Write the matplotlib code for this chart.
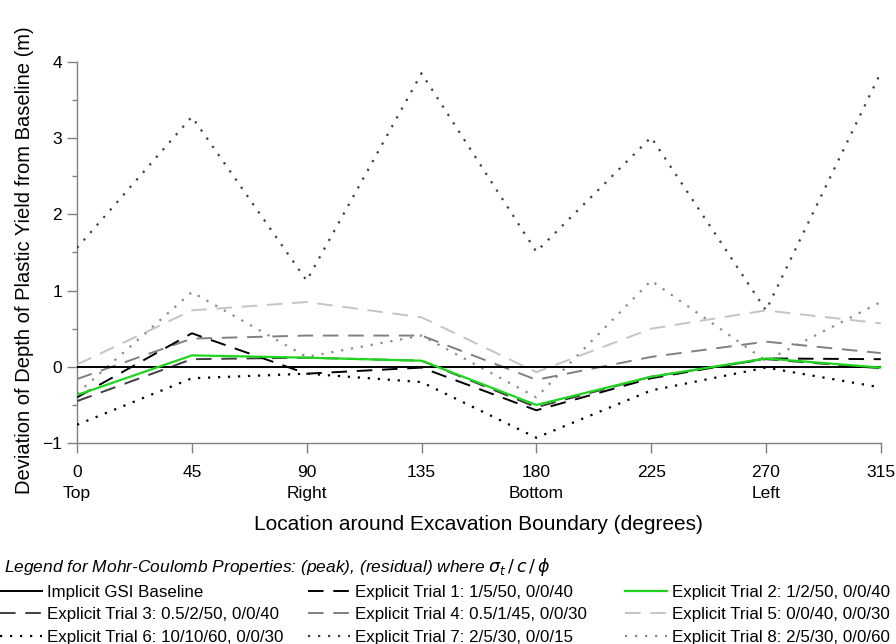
"""
Deviation of plastic-yield depth from the implicit GSI baseline, for eight
explicit Mohr-Coulomb trials, around the excavation boundary.
"""
import matplotlib
matplotlib.use("Agg")
import matplotlib.pyplot as plt
from matplotlib.ticker import MultipleLocator

plt.rcParams["font.family"] = ["Liberation Sans", "DejaVu Sans"]

angles = [0, 45, 90, 135, 180, 225, 270, 315]
side_labels = ["Top", "", "Right", "", "Bottom", "", "Left", ""]

baseline = [0, 0, 0, 0, 0, 0, 0, 0]
trial1 = [-0.40, 0.44, -0.09, -0.01, -0.57, -0.15, 0.11, 0.10]
trial2 = [-0.37, 0.15, 0.12, 0.08, -0.50, -0.13, 0.11, -0.01]
trial3 = [-0.45, 0.10, 0.12, 0.08, -0.53, -0.13, 0.10, -0.02]
trial4 = [-0.16, 0.37, 0.41, 0.41, -0.17, 0.13, 0.33, 0.18]
trial5 = [0.03, 0.74, 0.85, 0.65, -0.07, 0.50, 0.74, 0.57]
trial6 = [-0.76, -0.15, -0.09, -0.20, -0.93, -0.31, -0.01, -0.27]
trial7 = [1.56, 3.28, 1.13, 3.85, 1.51, 3.01, 0.74, 3.86]
trial8 = [-0.35, 0.98, 0.13, 0.41, -0.40, 1.13, 0.08, 0.85]

labels = [
    "Implicit GSI Baseline",
    "Explicit Trial 1: 1/5/50, 0/0/40",
    "Explicit Trial 2: 1/2/50, 0/0/40",
    "Explicit Trial 3: 0.5/2/50, 0/0/40",
    "Explicit Trial 4: 0.5/1/45, 0/0/30",
    "Explicit Trial 5: 0/0/40, 0/0/30",
    "Explicit Trial 6: 10/10/60, 0/0/30",
    "Explicit Trial 7: 2/5/30, 0/0/15",
    "Explicit Trial 8: 2/5/30, 0/0/60",
]

DASH = (0, (8, 5))
DOT = (0, (1, 3.5))
styles = [
    dict(color="black", ls="-", lw=1.4),
    dict(color="black", ls=DASH, lw=1.4),
    dict(color="#1fd61f", ls="-", lw=1.6),
    dict(color="#404040", ls=DASH, lw=1.4),
    dict(color="#808080", ls=DASH, lw=1.4),
    dict(color="#c4c4c4", ls=DASH, lw=1.4),
    dict(color="black", ls=DOT, lw=1.6),
    dict(color="#404040", ls=DOT, lw=1.6),
    dict(color="#8a8a8a", ls=DOT, lw=1.6),
]

series = [baseline, trial1, trial2, trial3, trial4, trial5, trial6, trial7, trial8]
# draw order: lighter lines underneath, baseline and green on top
draw_order = [8, 7, 5, 4, 6, 3, 1, 0, 2]

fig = plt.figure(figsize=(8.96, 6.44), dpi=100)
ax = fig.add_axes([0.086, 0.312, 0.897, 0.592])

handles = [None] * len(series)
for z, i in enumerate(draw_order):
    (h,) = ax.plot(angles, series[i], label=labels[i], zorder=2 + z, **styles[i])
    handles[i] = h

ax.set_xlim(0, 315)
ax.set_ylim(-1, 4)
ax.set_xticks(angles)
ax.set_xticklabels([f"{a}\n{s}" for a, s in zip(angles, side_labels)],
                   fontsize=12.5, linespacing=1.55)
ax.yaxis.set_major_locator(MultipleLocator(1))
ax.yaxis.set_minor_locator(MultipleLocator(0.5))
ax.tick_params(axis="y", labelsize=12.5, pad=3.5)
ax.tick_params(axis="x", pad=8.5)

for spine in ["top", "right"]:
    ax.spines[spine].set_visible(False)
for spine in ["left", "bottom"]:
    ax.spines[spine].set_color("#808080")
    ax.spines[spine].set_linewidth(1.0)
ax.tick_params(which="major", direction="out", color="#808080", length=7.2, width=1.0)
ax.tick_params(which="minor", direction="out", color="#808080", length=3.6, width=1.0)

ax.set_xlabel("Location around Excavation Boundary (degrees)", fontsize=15, labelpad=9.5)
ax.set_ylabel("Deviation of Depth of Plastic Yield from Baseline (m)", fontsize=14.5,
              labelpad=6)
ax.yaxis.label.set_y(0.48)

fig.text(0.005, 0.119,
         r"Legend for Mohr-Coulomb Properties: (peak), (residual) where "
         r"$\sigma_t\,/\,c\,/\,\phi$",
         fontsize=12.5, style="italic", va="center", ha="left")

# one legend per column so each column starts where the reference's does
columns = [[0, 3, 6], [1, 4, 7], [2, 5, 8]]
col_x = [0.0, 308 / 896, 625 / 896]
for cx, col in zip(col_x, columns):
    fig.legend([handles[i] for i in col], [labels[i] for i in col],
               loc="upper left", bbox_to_anchor=(cx, 0.092),
               frameon=False, fontsize=12.2, handlelength=2.5,
               handletextpad=0.3, labelspacing=0.45, borderpad=0,
               borderaxespad=0)

fig.savefig("out.png", dpi=100, facecolor="white")
